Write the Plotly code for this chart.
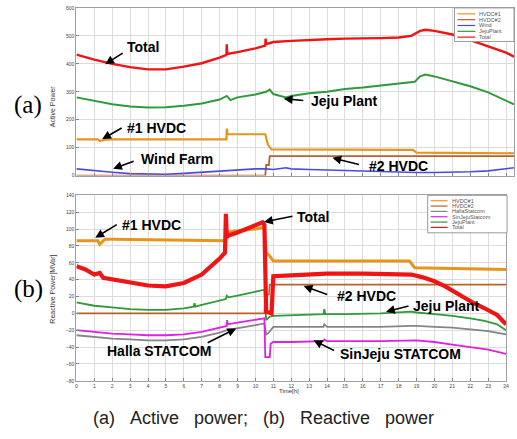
import plotly.graph_objects as go

W, H = 517, 439

# ---------------- (a) Active power ----------------
a_total_t = [0, 1, 2, 3, 4, 5, 6, 7, 8, 8.38, 8.40, 8.42, 9, 10, 10.55, 10.57, 10.6, 11, 12, 13, 14, 15, 16, 17, 18, 18.7, 19.2, 19.5, 20, 21, 22, 23, 24, 24.44]
a_total_v = [433, 415, 400, 388, 380, 380, 390, 402, 422, 432, 470, 435, 442, 455, 465, 490, 470, 478, 482, 486, 488, 490, 490, 492, 494, 500, 518, 522, 518, 505, 485, 462, 440, 426]

a_jeju_t = [0, 1, 2, 3, 4, 5, 6, 7, 8, 8.4, 8.6, 9, 10, 10.6, 10.8, 11, 11.7, 12, 13, 14, 15, 16, 17, 18, 18.9, 19.2, 19.5, 20, 21, 22, 23, 24, 24.44]
a_jeju_v = [280, 268, 255, 247, 244, 245, 250, 258, 272, 285, 270, 280, 290, 300, 308, 292, 280, 285, 295, 300, 310, 315, 322, 328, 336, 355, 362, 355, 338, 320, 298, 268, 255]

a_hvdc1_t = [0, 1.2, 1.3, 1.6, 2, 8.38, 8.40, 8.45, 10.55, 10.7, 10.9, 18.8, 19.0, 24.44]
a_hvdc1_v = [130, 130, 124, 129, 130, 130, 168, 148, 148, 110, 94, 92, 82, 80]

a_hvdc2_t = [0, 10.55, 10.6, 10.75, 10.8, 24.44]
a_hvdc2_v = [0, 0, 38, 38, 70, 70]

a_wind_t = [0, 1, 2, 3, 4, 5, 6, 7, 8, 9, 10, 10.6, 11, 11.7, 12, 13, 14, 15, 16, 17, 18, 19, 20, 21, 22, 23, 24, 24.44]
a_wind_v = [24, 17, 12, 7, 5, 5, 8, 12, 17, 21, 24, 24, 22, 28, 24, 22, 20, 18, 16, 13, 12, 11, 11, 12, 14, 17, 24, 28]

# ---------------- (b) Reactive power ----------------
b_hvdc1_t = [0, 1.2, 1.3, 1.6, 2, 8.3, 8.4, 9, 10, 10.5, 10.6, 10.8, 11, 18.6, 18.9, 24]
b_hvdc1_v = [86, 86, 82, 88, 88, 86, 96, 98, 100, 102, 72, 68, 62, 62, 54, 52]

b_hvdc2_t = [0, 10.5, 10.55, 10.75, 10.8, 24]
b_hvdc2_v = [0, 0, 22, 22, 34, 34]

b_halla_t = [0, 1, 2, 3, 4, 5, 6, 7, 8, 8.4, 9, 10, 10.5, 10.6, 10.7, 10.9, 11, 12, 13, 13.8, 13.85, 14, 15, 17, 18.7, 19, 20, 21, 22, 23, 24]
b_halla_v = [-26, -28, -30, -31, -32, -32, -31, -28, -23, -20, -18, -14, -12, -25, -24, -18, -16, -16, -16, -16, -13, -16, -16, -16, -15, -15, -16, -17, -19, -21, -25]

b_sinjeju_t = [0, 1, 2, 3, 4, 5, 6, 7, 8, 8.4, 8.42, 8.45, 9, 10, 10.5, 10.55, 10.8, 10.85, 11, 12, 13, 13.8, 13.85, 14, 15, 17, 19, 20, 21, 22, 23, 24]
b_sinjeju_v = [-20, -22, -24, -25, -26, -26, -25, -22, -17, -15, -8, -13, -11, -8, -6, -52, -52, -36, -34, -34, -33, -33, -31, -33, -33, -33, -32, -34, -37, -40, -43, -48]

b_jeju_t = [0, 1, 2, 3, 4, 5, 6, 6.55, 6.6, 6.65, 7, 8, 8.35, 8.4, 8.5, 9, 10, 10.5, 10.6, 10.8, 11, 12, 13, 13.8, 13.85, 13.9, 15, 17, 18.7, 19, 20, 21, 22, 22.8, 23.5, 24]
b_jeju_v = [13, 9, 7, 5, 4, 4, 6, 8, 12, 8, 10, 15, 17, 21, 19, 21, 26, 28, -8, -4, -3, -2, -1, -1, 5, -1, -1, 0, 2, 1, -1, -3, -6, -9, -13, -20]

b_total_t = [0, 0.5, 1, 1.3, 1.5, 2, 3, 4, 5, 6, 7, 7.5, 8, 8.3, 8.35, 8.4, 8.45, 9, 10, 10.4, 10.5, 10.6, 10.9, 10.95, 11, 12, 14, 16, 18, 18.7, 19.3, 20, 20.6, 21, 21.7, 22.2, 22.8, 23.5, 24]
b_total_v = [56, 52, 46, 48, 42, 40, 37, 33, 32, 36, 46, 55, 65, 72, 118, 90, 92, 96, 104, 108, 105, 2, 0, 42, 44, 45, 47, 47, 47, 46, 43, 38, 32, 27, 18, 12, 6, -2, -13]

top_ticks = [0, 100, 200, 300, 400, 500, 600]
bot_ticks = [-80, -60, -40, -20, 0, 20, 40, 60, 80, 100, 120, 140]
hour_ticks = list(range(0, 25))

top_names = ["HVDC#1", "HVDC#2", "Wind", "JejuPlant", "Total"]
bot_names = ["HVDC#1", "HVDC#2", "HallaStatcom", "SinJejuStatcom", "JejuPlant", "Total"]

C_HVDC1 = "#E8941C"
C_HVDC2 = "#B8612A"
C_WIND = "#4A4AE6"
C_JEJU = "#2E9A3A"
C_TOTAL = "#F01414"
C_HALLA = "#858585"
C_SIN = "#E020E0"

top_colors = [C_HVDC1, C_HVDC2, C_WIND, C_JEJU, C_TOTAL]
bot_colors = [C_HVDC1, C_HVDC2, C_HALLA, C_SIN, C_JEJU, C_TOTAL]

fig = go.Figure()

def add(t, v, name, color, width, xa, ya):
    fig.add_trace(go.Scatter(x=t, y=v, mode="lines", name=name,
                             line=dict(color=color, width=width),
                             xaxis=xa, yaxis=ya, showlegend=False))

add(a_hvdc1_t, a_hvdc1_v, top_names[0], C_HVDC1, 2.2, "x", "y")
add(a_hvdc2_t, a_hvdc2_v, top_names[1], C_HVDC2, 1.8, "x", "y")
add(a_wind_t, a_wind_v, top_names[2], C_WIND, 1.6, "x", "y")
add(a_jeju_t, a_jeju_v, top_names[3], C_JEJU, 2, "x", "y")
add(a_total_t, a_total_v, top_names[4], C_TOTAL, 2.4, "x", "y")

add(b_hvdc1_t, b_hvdc1_v, bot_names[0], C_HVDC1, 3, "x2", "y2")
add(b_hvdc2_t, b_hvdc2_v, bot_names[1], C_HVDC2, 1.6, "x2", "y2")
add(b_halla_t, b_halla_v, bot_names[2], C_HALLA, 1.8, "x2", "y2")
add(b_sinjeju_t, b_sinjeju_v, bot_names[3], C_SIN, 1.8, "x2", "y2")
add(b_jeju_t, b_jeju_v, bot_names[4], C_JEJU, 1.8, "x2", "y2")
add(b_total_t, b_total_v, bot_names[5], C_TOTAL, 4.2, "x2", "y2")

x0 = 76 / W
x1b = 509 / W
axcommon = dict(showgrid=True, gridcolor="#dcdcdc", gridwidth=1, zeroline=False,
                showline=True, linecolor="#a0a0a0", linewidth=1, mirror=True,
                ticks="inside", ticklen=3, tickcolor="#888",
                tickfont=dict(size=5, color="#444", family="Liberation Sans"))

fig.update_layout(
    width=W, height=H, margin=dict(l=0, r=0, t=0, b=0),
    paper_bgcolor="white", plot_bgcolor="white",
    xaxis=dict(domain=[x0, 1.0], range=[0, 24 * (517 - 76) / (509 - 76)], anchor="y",
               tickvals=hour_ticks, showticklabels=False, **axcommon),
    yaxis=dict(domain=[1 - 175 / H, 1 - 5 / H], range=[0, 600], anchor="x",
               tickvals=top_ticks, **axcommon),
    xaxis2=dict(domain=[x0, x1b], range=[0, 24], anchor="y2",
                tickvals=hour_ticks, **axcommon),
    yaxis2=dict(domain=[1 - 383 / H, 1 - 195 / H], range=[-80, 140], anchor="x2",
                tickvals=bot_ticks, **axcommon),
    showlegend=False,
)

anns = []
shapes = []

def px2paper(px, py):
    return px / W, 1 - py / H

def txt(s, px, py, size=14, bold=True, family="Liberation Sans", angle=0, color="black", xanchor="center"):
    x, y = px2paper(px, py)
    anns.append(dict(text=("<b>%s</b>" % s) if bold else s, x=x, y=y,
                     xref="paper", yref="paper", showarrow=False,
                     xanchor=xanchor, yanchor="middle", textangle=angle,
                     font=dict(size=size, family=family, color=color)))

def arrow(tip_px, tail_px):
    x, y = px2paper(*tip_px)
    anns.append(dict(text="", x=x, y=y, xref="paper", yref="paper",
                     ax=tail_px[0] - tip_px[0], ay=tail_px[1] - tip_px[1],
                     showarrow=True, arrowhead=2, arrowsize=1.1, arrowwidth=1.6,
                     arrowcolor="black", standoff=0, startstandoff=0))

def legend_box(names, colors, left, top, right, bottom, row0, dy, lx0, lx1, tx):
    x0_, y0_ = px2paper(left, bottom)
    x1_, y1_ = px2paper(right, top)
    shapes.append(dict(type="rect", xref="paper", yref="paper", x0=x0_, y0=y0_, x1=x1_, y1=y1_,
                       fillcolor="white", line=dict(color="#9a9a9a", width=1), layer="above"))
    for i, (n, c) in enumerate(zip(names, colors)):
        yy = row0 + i * dy
        a0, b0 = px2paper(lx0, yy)
        a1, _ = px2paper(lx1, yy)
        shapes.append(dict(type="line", xref="paper", yref="paper", x0=a0, y0=b0, x1=a1, y1=b0,
                           line=dict(color=c, width=1.2), layer="above"))
        txt(n, tx, yy, size=5.5, bold=False, color="#555", xanchor="left")

legend_box(top_names, top_colors, 457, 5, 517, 39, 11, 5.9, 460, 478, 480)
legend_box(bot_names, bot_colors, 430, 195, 510, 233, 200.5, 5.4, 433, 450, 452)

# (a) labels
txt("Total", 143, 45)
txt("Jeju Plant", 346, 99)
txt("#1 HVDC", 157, 127)
txt("Wind Farm", 177, 158)
txt("#2 HVDC", 401, 165)
arrow((105, 62), (124, 50))
arrow((285, 97), (306, 99))
arrow((102, 138), (123, 126))
arrow((113, 168), (135, 160))
arrow((334, 157), (362, 164))
# (b) labels
txt("#1 HVDC", 152, 225)
txt("Total", 314, 217)
txt("#2 HVDC", 368, 297)
txt("Jeju Plant", 448, 307)
txt("Halla STATCOM", 160, 353)
txt("SinJeju STATCOM", 403, 356)
arrow((95, 238), (118, 224))
arrow((265, 222), (295, 216))
arrow((305, 287), (330, 296))
arrow((388, 313), (412, 307))
arrow((237, 330), (207, 345))
arrow((315, 342), (337, 353))

# panel letters, axis titles, caption
txt("(a)", 27, 103, size=25, bold=False, family="Liberation Serif")
txt("(b)", 28, 290, size=25, bold=False, family="Liberation Serif")
txt("Active Power", 52, 105, size=7, bold=False, angle=-90, color="#333")
txt("Reactive Power[MVar]", 52, 290, size=7, bold=False, angle=-90, color="#333")
txt("Time[h]", 290, 393, size=6, bold=False, color="#333")
sp = "\u00a0\u00a0\u00a0"
txt("(a)" + sp + "Active" + sp + "power;" + sp + "(b)" + sp + "Reactive" + sp + "power", 265, 421,
    size=18, bold=False, family="Liberation Sans", color="#222")

fig.update_layout(annotations=anns, shapes=shapes)
fig.write_html("out.html")
